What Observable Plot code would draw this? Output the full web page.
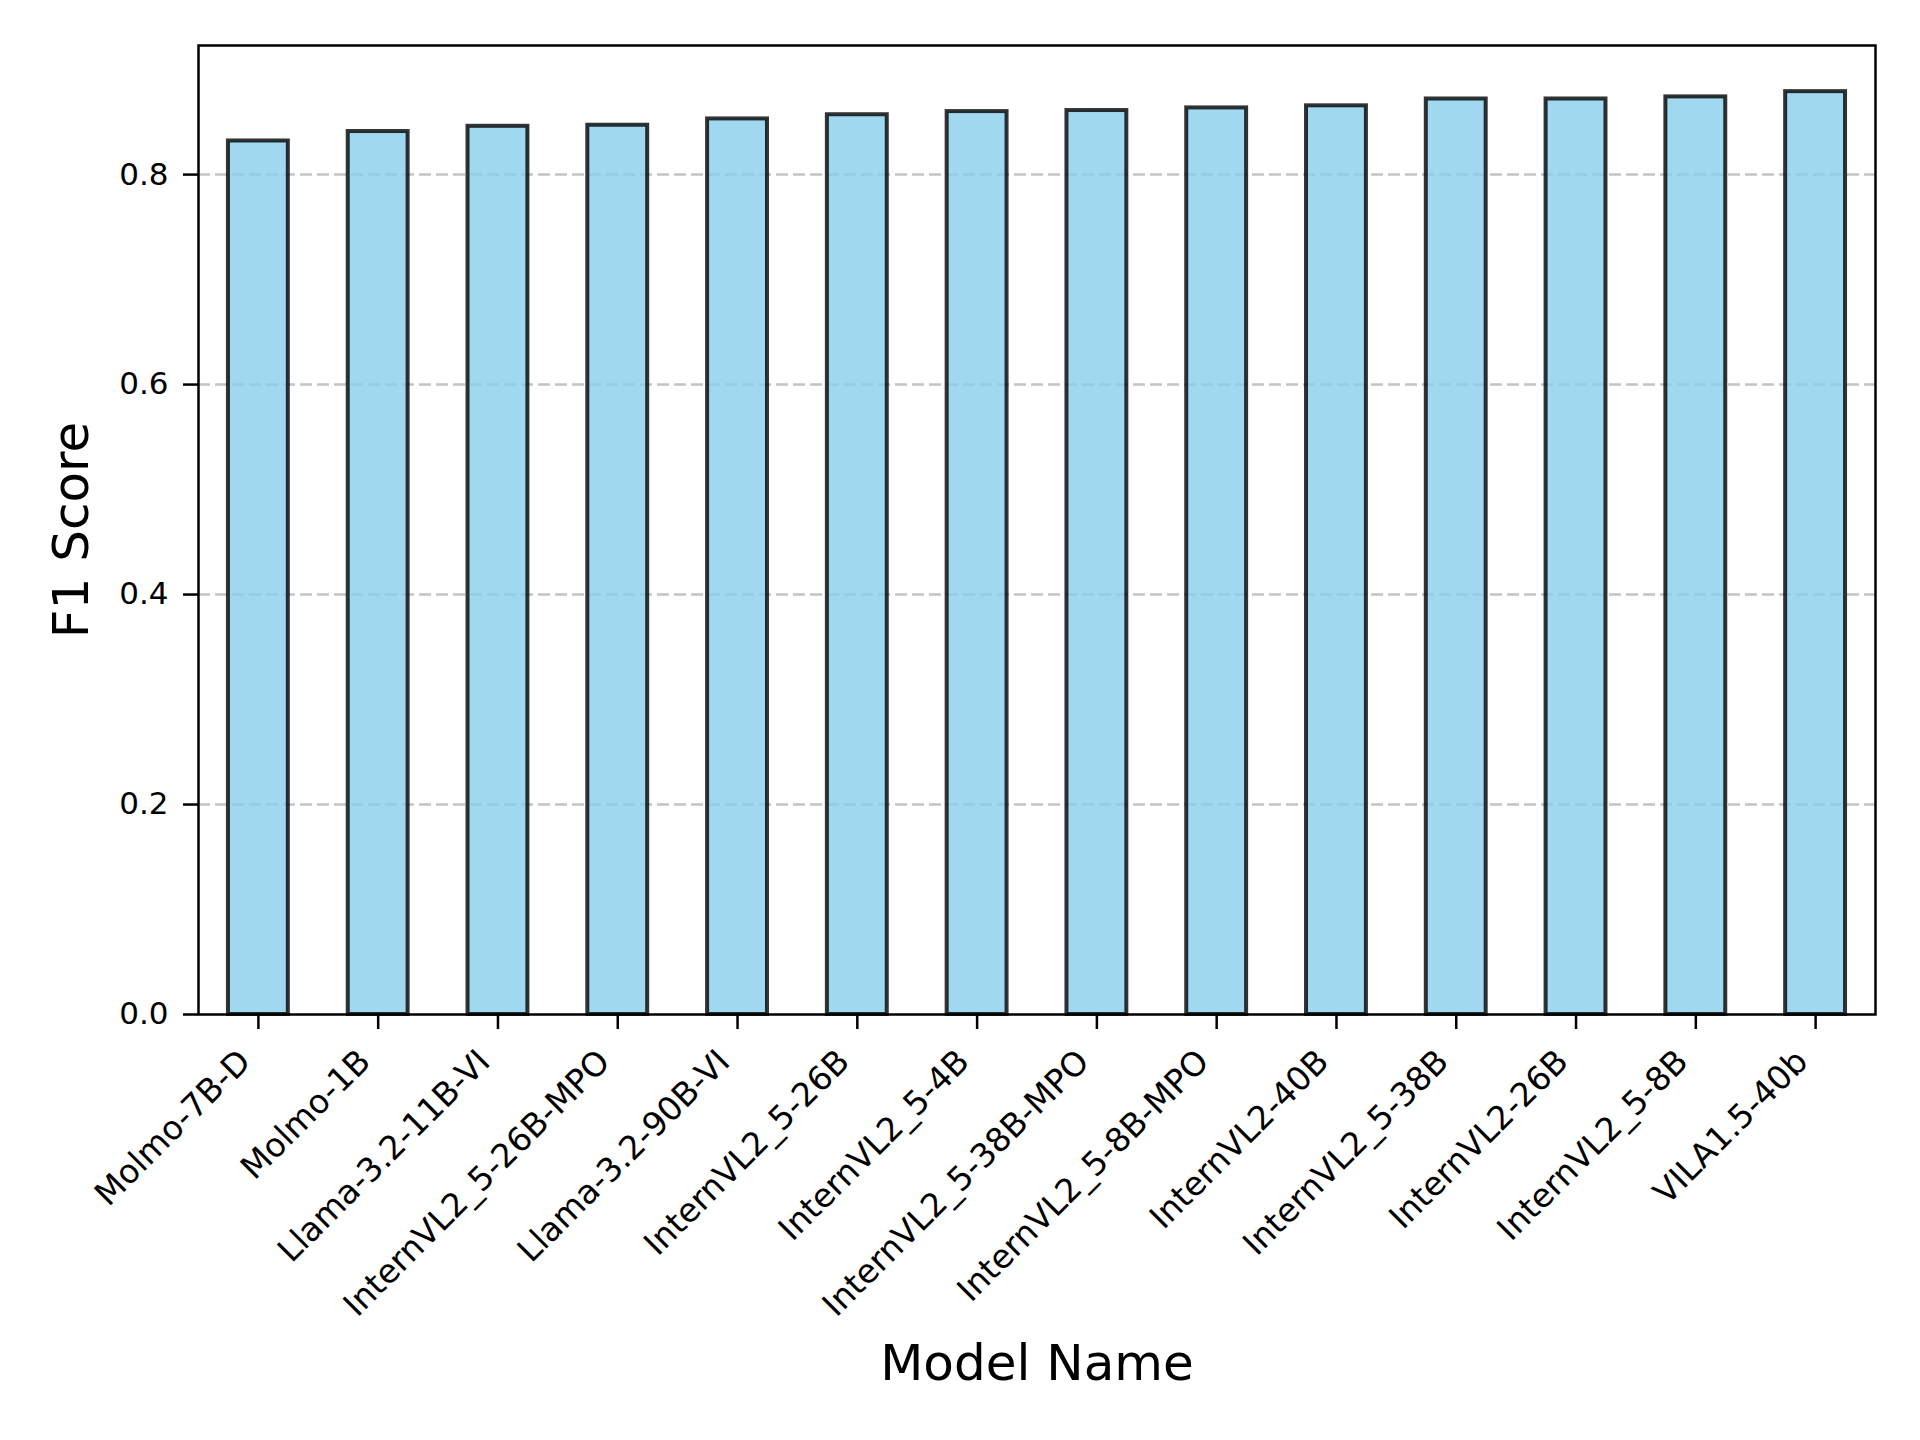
<!DOCTYPE html>
<html>
<head>
<meta charset="utf-8">
<script src="https://cdn.jsdelivr.net/npm/d3@7"></script>
<script src="https://cdn.jsdelivr.net/npm/@observablehq/plot@0.6"></script>
<style>
  html, body { margin: 0; padding: 0; background: #fff; }
  svg { font-family: "DejaVu Sans", sans-serif; }
</style>
</head>
<body>
<div id="chart"></div>
<script>
const models = [
  "Molmo-7B-D", "Molmo-1B", "Llama-3.2-11B-VI", "InternVL2_5-26B-MPO",
  "Llama-3.2-90B-VI", "InternVL2_5-26B", "InternVL2_5-4B", "InternVL2_5-38B-MPO",
  "InternVL2_5-8B-MPO", "InternVL2-40B", "InternVL2_5-38B", "InternVL2-26B",
  "InternVL2_5-8B", "VILA1.5-40b"
];
const f1Scores = [
  0.832, 0.841, 0.846, 0.847, 0.853, 0.857, 0.860,
  0.861, 0.8635, 0.8655, 0.872, 0.872, 0.874, 0.879
];
const yTicks = [0.0, 0.2, 0.4, 0.6, 0.8];
const gridTicks = [0.2, 0.4, 0.6, 0.8];
const yLabel = "F1 Score";
const xLabel = "Model Name";

const data = models.map((m, i) => ({ model: m, f1: f1Scores[i] }));
const yMax = d3.max(f1Scores) * 1.05;

const chart = Plot.plot({
  width: 1920,
  height: 1440,
  marginLeft: 198,
  marginRight: 45,
  marginTop: 45,
  marginBottom: 426,
  style: { fontFamily: "DejaVu Sans, sans-serif", background: "white", color: "black" },
  x: { type: "band", domain: models, paddingInner: 0.5, paddingOuter: 0.25, round: false },
  y: { domain: [0, yMax] },
  marks: [
    Plot.gridY(gridTicks, { stroke: "#c4c4c4", strokeOpacity: 1, strokeWidth: 2.5, strokeDasharray: "12,5" }),
    Plot.barY(data, {
      x: "model", y: "f1",
      fill: "#87ceeb", fillOpacity: 0.8,
      stroke: "black", strokeOpacity: 0.8, strokeWidth: 4
    }),
    Plot.frame({ stroke: "black", strokeWidth: 2.5 }),
    Plot.axisY(yTicks, {
      tickSize: 15, tickPadding: 15, tickFormat: d3.format(".1f"),
      fontSize: 31, label: null, strokeWidth: 2.5
    }),
    Plot.axisX({ tickSize: 15, tickFormat: () => "", label: null, strokeWidth: 2.5 }),
    Plot.text(models, {
      x: d => d, frameAnchor: "bottom",
      rotate: -45, textAnchor: "end", lineAnchor: "bottom",
      dx: -6, dy: 49, fontSize: 33, fill: "black"
    }),
    Plot.text([yLabel], {
      frameAnchor: "left", rotate: -90, dx: -127,
      textAnchor: "middle", lineAnchor: "middle", fontSize: 50, fill: "black"
    }),
    Plot.text([xLabel], {
      frameAnchor: "bottom", dy: 349,
      textAnchor: "middle", lineAnchor: "middle", fontSize: 50, fill: "black"
    })
  ]
});
document.getElementById("chart").append(chart);
</script>
</body>
</html>
